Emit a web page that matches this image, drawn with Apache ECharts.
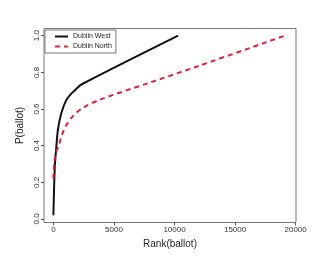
<!DOCTYPE html>
<html><head><meta charset="utf-8">
<script src="https://cdn.jsdelivr.net/npm/echarts@6/dist/echarts.min.js"></script>
<style>html,body{margin:0;padding:0;background:#fff}#c{width:330px;height:260px}</style>
</head><body><div id="c"></div>
<script>
var seriesNames = ['Dublin West', 'Dublin North'];
var westRank = [0, 30, 70, 130, 250, 380, 660, 1070, 1500, 1900, 2350, 10300];
var westP    = [0.02, 0.10, 0.20, 0.30, 0.40, 0.49, 0.578, 0.65, 0.685, 0.71, 0.735, 1.0];
var northRank = [0, 30, 80, 150, 250, 450, 660, 1050, 1600, 2400, 3800, 8000, 12000, 19100];
var northP    = [0.22, 0.27, 0.31, 0.34, 0.37, 0.40, 0.45, 0.51, 0.56, 0.605, 0.65, 0.745, 0.835, 1.0];
var xTicks = [0, 5000, 10000, 15000, 20000];
var yTicks = [0.0, 0.2, 0.4, 0.6, 0.8, 1.0];

function pairs(xs, ys){ return xs.map(function(x,i){ return [x, ys[i]]; }); }
var font = 'Liberation Sans, Arial, sans-serif';
var chart = echarts.init(document.getElementById('c'), null, {renderer:'canvas'});
chart.setOption({
  animation: false,
  backgroundColor: '#fff',
  grid: {left: 44, right: 34, top: 28.5, bottom: 37.5, show: true, borderColor: '#777', borderWidth: 1, containLabel: false},
  legend: {
    show: true, left: 45, top: 30, orient: 'vertical',
    data: seriesNames,
    itemWidth: 13, itemHeight: 6, itemGap: 3,
    padding: [3, 4, 3, 9],
    borderColor: '#777', borderWidth: 1, borderRadius: 0,
    backgroundColor: '#fff',
    itemStyle: {color: 'transparent', borderColor: 'transparent', borderWidth: 0},
    textStyle: {fontFamily: font, fontSize: 7, color: '#222'}
  },
  xAxis: {
    type: 'value', min: -775, max: 20030,
    name: 'Rank(ballot)', nameLocation: 'middle', nameGap: 17,
    nameTextStyle: {fontFamily: font, fontSize: 10, color: '#222'},
    axisLine: {show: false, onZero: false},
    axisTick: {show: true, length: 3, customValues: xTicks, lineStyle: {color: '#555'}},
    axisLabel: {fontFamily: font, fontSize: 8, color: '#333', margin: 3, customValues: xTicks,
      formatter: function(v){ return String(v); }},
    splitLine: {show: false}
  },
  yAxis: {
    type: 'value', min: -0.0192, max: 1.0392,
    name: 'P(ballot)', nameLocation: 'middle', nameGap: 19, nameRotate: 90,
    nameTextStyle: {fontFamily: font, fontSize: 10, color: '#222'},
    axisLine: {show: false, onZero: false},
    axisTick: {show: true, length: 3, customValues: yTicks, lineStyle: {color: '#555'}},
    axisLabel: {fontFamily: font, fontSize: 8, color: '#333', margin: 3, rotate: 90, customValues: yTicks,
      formatter: function(v){ return v.toFixed(1); }},
    splitLine: {show: false}
  },
  series: [
    {name: seriesNames[0], type: 'line', data: pairs(westRank, westP), symbol: 'none', smooth: 0.3,
     lineStyle: {color: '#111', width: 2}, itemStyle: {color: '#111'}},
    {name: seriesNames[1], type: 'line', data: pairs(northRank, northP), symbol: 'none', smooth: 0.3,
     lineStyle: {color: '#e0203c', width: 2, type: [5, 4]}, itemStyle: {color: '#e0203c'}}
  ]
});
</script></body></html>
